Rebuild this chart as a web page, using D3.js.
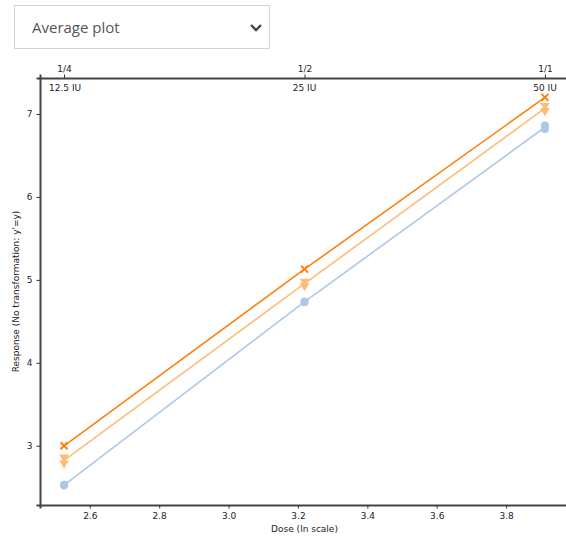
<!DOCTYPE html>
<html>
<head>
<meta charset="utf-8">
<script src="https://cdn.jsdelivr.net/npm/d3@7"></script>
<style>
  body { margin: 0; background: #fff; font-family: "Open Sans", "DejaVu Sans", sans-serif; }
  .select {
    position: absolute; left: 14px; top: 5px; width: 256px; height: 44px;
    border: 1px solid #d4d4d4; box-sizing: border-box; background: #fff;
  }
  .select span { position: absolute; left: 17px; top: 11px; font-size: 15px; color: #555; }
  .select svg { position: absolute; right: 6px; top: 17px; }
  #chart { position: absolute; left: 0; top: 0; }
</style>
</head>
<body>
<div class="select"><span>Average plot</span>
  <svg width="14" height="10"><path d="M2,2 L7,7 L12,2" fill="none" stroke="#444" stroke-width="2.4"/></svg>
</div>
<svg id="chart" width="566" height="538"></svg>
<script>
// Doses (IU) and their relative strength labels
const doses = [12.5, 25, 50];
const doseLabels = ["12.5 IU", "25 IU", "50 IU"];
const fractionLabels = ["1/4", "1/2", "1/1"];

// Replicate responses at each dose
const seriesA = [[2.52, 2.53], [4.73, 4.74], [6.82, 6.86]];   // light blue, circles
const seriesB = [[2.79, 2.86], [4.93, 4.98], [7.04, 7.10]];   // light orange, triangles
const seriesC = [[3.00], [5.13], [7.20]];                     // orange, crosses

const xTicks = [2.6, 2.8, 3.0, 3.2, 3.4, 3.6, 3.8];
const yTicks = [3, 4, 5, 6, 7];

const svg = d3.select("#chart");
const margin = { left: 40, right: -3, top: 78, bottom: 33 };
const W = 566, H = 538;

const lnDoses = doses.map(Math.log);
const xPad = (lnDoses[2] - lnDoses[0]) * 0.05;
const x = d3.scaleLinear()
  .domain([lnDoses[0] - xPad, lnDoses[2] + xPad])
  .range([margin.left, W - margin.right]);

const allY = [...seriesA, ...seriesB, ...seriesC].flat();
const yMin = d3.min(allY), yMax = d3.max(allY);
const yPad = (yMax - yMin) * 0.05;
const y = d3.scaleLinear()
  .domain([yMin - yPad, yMax + yPad])
  .range([H - margin.bottom, margin.top]);

const font = "DejaVu Sans, sans-serif";

// Bottom axis
const gx = svg.append("g")
  .attr("transform", `translate(0,${H - margin.bottom})`)
  .call(d3.axisBottom(x).tickValues(xTicks).tickFormat(d3.format(".1f")).tickSizeOuter(0).tickSize(3.5).tickPadding(4));
// Left axis
const gy = svg.append("g")
  .attr("transform", `translate(${margin.left},0)`)
  .call(d3.axisLeft(y).tickValues(yTicks).tickFormat(d3.format("d")).tickSizeOuter(0).tickSize(3.5).tickPadding(4));
// Top axis with dose fractions
const gt = svg.append("g")
  .attr("transform", `translate(0,${margin.top})`)
  .call(d3.axisTop(x).tickValues(lnDoses).tickFormat((d, i) => fractionLabels[i]).tickSizeOuter(0).tickSize(3.5).tickPadding(3));

[gx, gy, gt].forEach(g => {
  g.selectAll("text").attr("font-family", font).attr("font-size", 9).attr("fill", "#222");
  g.selectAll("line").attr("stroke", "#333");
  g.select(".domain").attr("stroke", "#444").attr("stroke-width", 2);
});

// Dose labels under the top axis
svg.append("g").selectAll("text").data(lnDoses).join("text")
  .attr("x", d => x(d)).attr("y", margin.top + 13)
  .attr("text-anchor", (d, i) => i === 0 ? "start" : (i === 2 ? "middle" : "middle"))
  .attr("dx", (d, i) => i === 0 ? -15 : 0)
  .attr("font-family", font).attr("font-size", 9).attr("fill", "#222")
  .text((d, i) => doseLabels[i]);

// Axis titles
svg.append("text")
  .attr("x", (margin.left + W - margin.right) / 2).attr("y", H - 6)
  .attr("text-anchor", "middle").attr("font-family", font).attr("font-size", 9).attr("fill", "#222")
  .text("Dose (ln scale)");
svg.append("text")
  .attr("transform", `translate(19,${(margin.top + H - margin.bottom) / 2}) rotate(-90)`)
  .attr("text-anchor", "middle").attr("font-family", font).attr("font-size", 9).attr("fill", "#222")
  .text("Response (No transformation: y'=y)");

const series = [
  { data: seriesA, color: "#aec7e8", marker: "circle" },
  { data: seriesB, color: "#ffbb78", marker: "triangle" },
  { data: seriesC, color: "#ff7f0e", marker: "cross" }
];

const line = d3.line().x(d => x(d[0])).y(d => y(d[1]));

series.forEach(s => {
  const means = s.data.map((v, i) => [lnDoses[i], d3.mean(v)]);
  svg.append("path").attr("d", line(means))
    .attr("fill", "none").attr("stroke", s.color).attr("stroke-width", 1.6);
  const pts = s.data.flatMap((v, i) => v.map(r => [lnDoses[i], r]));
  const g = svg.append("g");
  pts.forEach(p => {
    const cx = x(p[0]), cy = y(p[1]);
    if (s.marker === "circle") {
      g.append("circle").attr("cx", cx).attr("cy", cy).attr("r", 4).attr("fill", s.color);
    } else if (s.marker === "triangle") {
      g.append("path").attr("d", d3.symbol(d3.symbolTriangle, 40)())
        .attr("transform", `translate(${cx},${cy}) rotate(180)`).attr("fill", s.color);
    } else {
      g.append("path").attr("d", "M-3.5,-3.5L3.5,3.5M-3.5,3.5L3.5,-3.5")
        .attr("transform", `translate(${cx},${cy})`)
        .attr("stroke", s.color).attr("stroke-width", 2);
    }
  });
});
</script>
</body>
</html>
